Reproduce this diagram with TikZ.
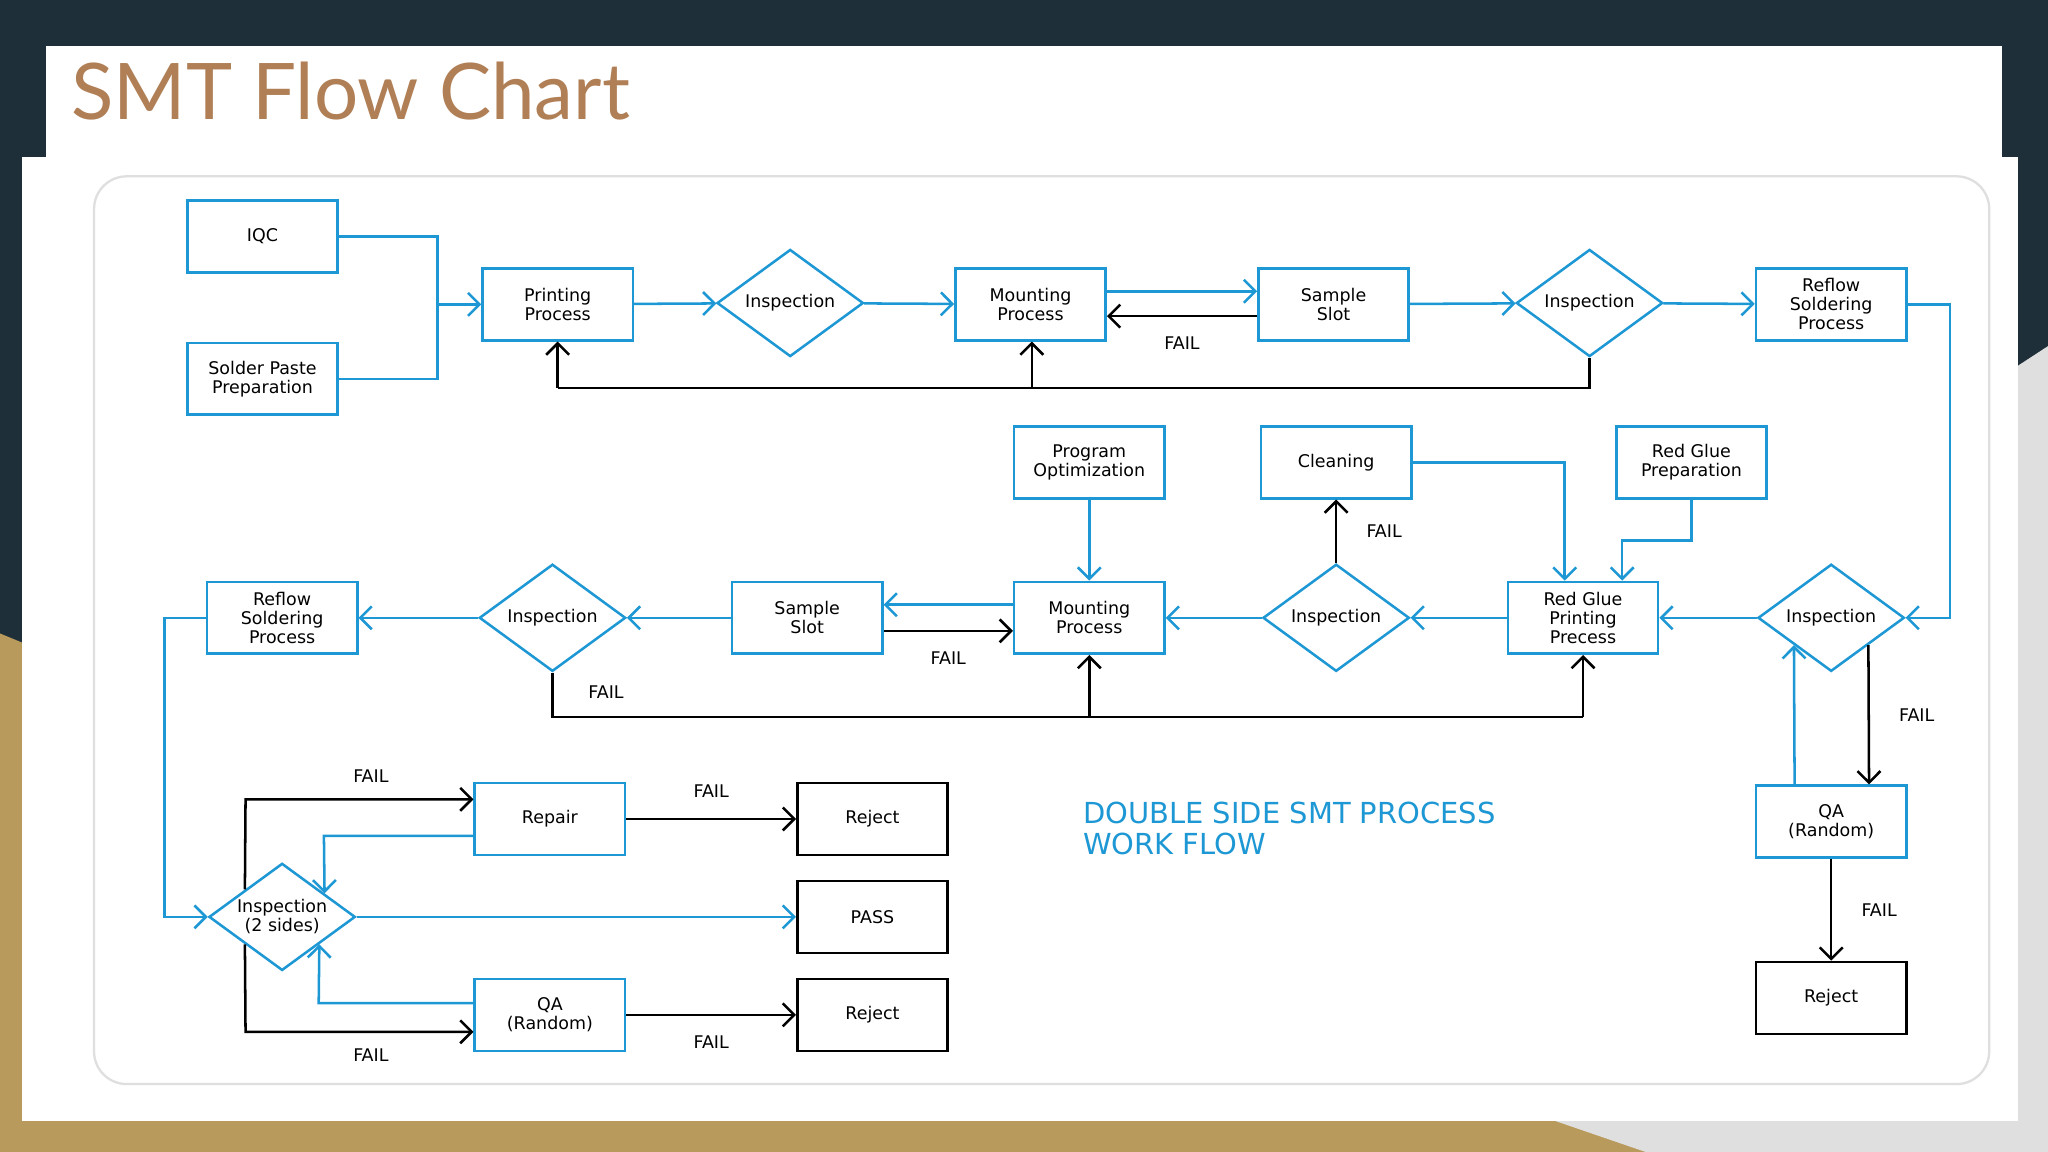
\documentclass[tikz,border=0pt]{standalone}
\usepackage{fontspec}
\setmainfont{DejaVu Sans}
\newfontfamily\titlefont{Lato}
\usetikzlibrary{shapes.geometric,arrows.meta,calc}
\definecolor{navy}{HTML}{1F2F39}
\definecolor{gold}{HTML}{B89A5C}
\definecolor{bl}{HTML}{1E98D4}
\definecolor{ttl}{HTML}{B07F55}
\begin{document}
\begin{tikzpicture}[x=0.01cm,y=-0.01cm,
  box/.style={draw=bl,line width=0.55pt,minimum width=1.15cm,minimum height=0.55cm,inner sep=0,align=center,font=\fontsize{3.8}{4.1}\selectfont,fill=white},
  kbox/.style={box,draw=black},
  dia/.style={diamond,draw=bl,line width=0.55pt,minimum width=1.12cm,minimum height=0.82cm,inner sep=0,fill=white,label={[align=center,font=\fontsize{3.8}{4.1}\selectfont]center:#1}},
  ba/.style={draw=bl,line width=0.55pt,-{Straight Barb[length=2.5pt,width=5pt]}},
  bl2/.style={draw=bl,line width=0.55pt},
  ka/.style={draw=black,line width=0.55pt,-{Straight Barb[length=2.5pt,width=5pt]}},
  kl/.style={draw=black,line width=0.55pt},
  fl/.style={font=\fontsize{3.8}{4}\selectfont}]
\useasboundingbox (0,0) rectangle (1568,882);
\fill[navy] (0,0) rectangle (1568,882);
\fill[gold] (0,485) -- (17,492) -- (17,858) -- (1260,858) -- (1260,882) -- (0,882) -- cycle;
\fill[gray!25] (1545,280) -- (1568,265) -- (1568,882) -- (1260,882) -- (1190,858) -- (1545,858) -- cycle;
\fill[white] (35,35) rectangle (1533,125);
\fill[white] (17,120) rectangle (1545,858);
\node[anchor=west,text=ttl,font=\titlefont\fontsize{17}{20}\selectfont] (title) at (42,70) {SMT Flow Chart};
\draw[gray!25,line width=0.5pt,rounded corners=0.25cm] (72,135) rectangle (1523,830);
% nodes
\node[box] (iqc) at (201,181) {IQC};
\node[box] (sp) at (201,290) {Solder Paste\\Preparation};
\node[box] (pr) at (427,233) {Printing\\Process};
\node[dia=Inspection] (i1) at (605,232) {};
\node[box] (m1) at (789,233) {Mounting\\Process};
\node[box] (s1) at (1021,233) {Sample\\Slot};
\node[dia=Inspection] (i2) at (1217,232) {};
\node[box] (r1) at (1402,233) {Reflow\\Soldering\\Process};
\node[dia=Inspection] (i3) at (1402,473) {};
\node[box] (rg) at (1212,473) {Red Glue\\Printing\\Precess};
\node[dia=Inspection] (i4) at (1023,473) {};
\node[box] (m2) at (834,473) {Mounting\\Process};
\node[box] (s2) at (618,473) {Sample\\Slot};
\node[dia=Inspection] (i5) at (423,473) {};
\node[box] (r2) at (216,473) {Reflow\\Soldering\\Process};
\node[box] (po) at (834,354) {Program\\Optimization};
\node[box] (cl) at (1023,354) {Cleaning};
\node[box] (rgp) at (1295,354) {Red Glue\\Preparation};
\node[box] (qa1) at (1402,629) {QA\\(Random)};
\node[kbox] (rj1) at (1402,764) {Reject};
\node[box] (rep) at (421,627) {Repair};
\node[kbox] (rja) at (668,627) {Reject};
\node[dia={Inspection\\(2 sides)}] (i6) at (216,702) {};
\node[kbox] (pass) at (668,702) {PASS};
\node[box] (qa2) at (421,777) {QA\\(Random)};
\node[kbox] (rjb) at (668,777) {Reject};
\node[anchor=north west,align=left,text=bl,font=\fontsize{6.3}{6.6}\selectfont] (dsl) at (817,602) {DOUBLE SIDE SMT PROCESS\\WORK FLOW};
% connectors row 1
\draw[bl2] (iqc.east) -- (335,181) -- (335,233);
\draw[bl2] (sp.east) -- (335,290) -- (335,233);
\draw[ba] (335,233) -- (pr.west);
\draw[ba] (pr) -- (i1);
\draw[ba] (i1) -- (m1);
\draw[ba] ([yshift=0.1cm]m1.east) -- ([yshift=0.1cm]s1.west);
\draw[ka] ([yshift=-0.09cm]s1.west) -- node[below,fl,yshift=-1pt] {FAIL} ([yshift=-0.09cm]m1.east);
\draw[ba] (s1) -- (i2);
\draw[ba] (i2) -- (r1);
\draw[kl] (i2.south) -- (1217,297) -- (427,297);
\draw[ka] (427,297) -- (pr.south);
\draw[ka] (790,297) -- (m1.south -| 790,0);
\draw[ba] (r1.east) -- (1493,233) -- (1493,473) -- (i3.east);
% row 2
\draw[ba] (i3) -- (rg);
\draw[ba] (rg) -- (i4);
\draw[ba] (i4) -- (m2);
\draw[ba] ([yshift=0.1cm]m2.west) -- ([yshift=0.1cm]s2.east);
\draw[ka] ([yshift=-0.1cm]s2.east) -- node[below,fl,yshift=-1pt] {FAIL} ([yshift=-0.1cm]m2.west);
\draw[ba] (s2) -- (i5);
\draw[ba] (i5) -- (r2);
\draw[ka] (i4.north) -- node[right,fl,xshift=3pt] {FAIL} (cl.south);
\draw[ba] (cl.east) -- (1198,354) -- (rg.north -| 1198,0);
\draw[ba] (rgp.south) -- (1295,414) -- (1242,414) -- (rg.north -| 1242,0);
\draw[ba] (po) -- (m2);
\draw[kl] (i5.south) -- (423,549) -- (1212,549);
\draw[ka] (1212,549) -- (rg.south);
\draw[ka] (834,549) -- (m2.south);
\node[fl] (f5) at (464,530) {FAIL};
\draw[ka] ($(i3.south)!0.5!(i3.east)$) -- node[right,fl,xshift=3pt] {FAIL} (qa1.north -| 1431,0);
\draw[ba] (qa1.north -| 1374,0) -- ($(i3.south)!0.5!(i3.west)$);
\draw[ka] (qa1) -- node[right,fl,xshift=3pt] {FAIL} (rj1);
% bottom-left
\draw[ba] (r2.west) -- (126,473) -- (126,702) -- (i6.west);
\draw[ba] (i6.east) -- (pass.west);
\draw[ka] ($(i6.west)!0.5!(i6.north)$) -- (188,612) -- node[above,fl,pos=0.55] {FAIL} (rep.west |- 0,612);
\draw[ba] (rep.west |- 0,640) -- (248,640) -- ($(i6.north)!0.57!(i6.east)$);
\draw[ka] (rep) -- node[above,fl,yshift=1pt] {FAIL} (rja);
\draw[ka] ($(i6.west)!0.5!(i6.south)$) -- (188,790) -- node[below,fl,pos=0.55] {FAIL} (qa2.west |- 0,790);
\draw[ba] (qa2.west |- 0,768) -- (244,768) -- ($(i6.south)!0.5!(i6.east)$);
\draw[ka] (qa2) -- node[below,fl,yshift=-1pt] {FAIL} (rjb);
\end{tikzpicture}
\end{document}
